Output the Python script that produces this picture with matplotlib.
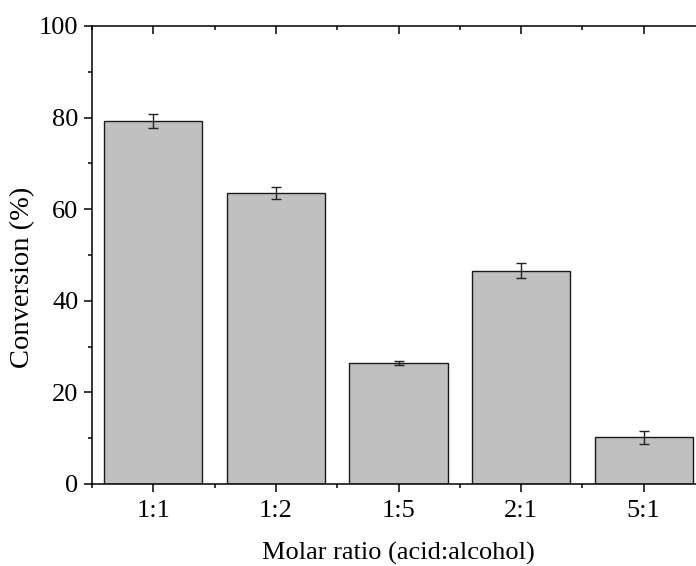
import matplotlib
matplotlib.use("Agg")
import matplotlib.pyplot as plt
import numpy as np
from matplotlib.ticker import FixedLocator, MultipleLocator

plt.rcParams.update({
    "font.family": "serif",
    "font.serif": ["Liberation Serif", "Times New Roman", "DejaVu Serif"],
    "mathtext.fontset": "stix",
    "font.size": 19,
    "axes.linewidth": 1.1,
})

ratios = ["1:1", "1:2", "1:5", "2:1", "5:1"]
conversion = [79.2, 63.5, 26.4, 46.6, 10.2]
conversion_err = [1.5, 1.3, 0.4, 1.7, 1.4]

fig = plt.figure(figsize=(6.96, 5.66), dpi=100)
# right edge of the frame runs slightly past the canvas
ax = fig.add_axes([92 / 696, 1 - 484 / 566, 613 / 696, 458 / 566])

x = np.arange(1, len(ratios) + 1)
ax.bar(x, conversion, width=0.8, color="#C0C0C0", edgecolor="#1a1a1a",
       linewidth=1.0, zorder=2)
ax.errorbar(x, conversion, yerr=conversion_err, fmt="none", ecolor="#222222",
            elinewidth=1.0, capsize=3.4, capthick=1.0, zorder=3)

ax.set_xlim(0.5, len(ratios) + 0.5)
ax.set_ylim(0, 100)
ax.set_xticks(x)
ax.set_xticklabels(ratios)
ax.xaxis.set_minor_locator(FixedLocator(np.arange(0.5, len(ratios) + 1, 1.0)))
ax.yaxis.set_major_locator(MultipleLocator(20))
ax.yaxis.set_minor_locator(MultipleLocator(10))

ax.tick_params(axis="x", which="major", direction="out", length=5.8, width=1.1,
               pad=6, top=True, labeltop=False)
ax.tick_params(axis="x", which="minor", direction="out", length=3.0, width=1.1,
               top=True)
ax.tick_params(axis="y", which="major", direction="out", length=5.8, width=1.1,
               pad=4, right=True, labelright=False)
ax.tick_params(axis="y", which="minor", direction="out", length=3.0, width=1.1,
               right=True)
# top / right ticks point inward, Origin style
for t in ax.xaxis.get_major_ticks() + ax.xaxis.get_minor_ticks():
    t.tick2line.set_marker(3)
for t in ax.yaxis.get_major_ticks() + ax.yaxis.get_minor_ticks():
    t.tick2line.set_marker(0)

ax.set_xlabel("Molar ratio (acid:alcohol)", labelpad=14)
ax.set_ylabel("Conversion (%)", fontsize=20.5, va="center")
ax.yaxis.set_label_coords(-0.114, 0.452)

fig.savefig("out.png", dpi=100)
